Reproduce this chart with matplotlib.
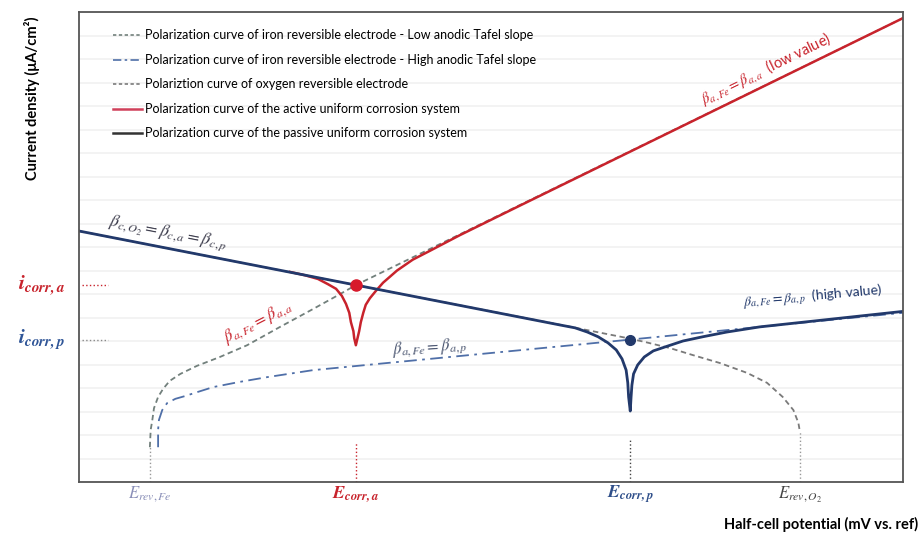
import numpy as np
import matplotlib.pyplot as plt
from matplotlib.lines import Line2D

plt.rcParams['font.family'] = ['Lato', 'DejaVu Sans']
plt.rcParams['mathtext.fontset'] = 'stix'

# characteristic potentials (arbitrary units along the potential axis)
E_rev_fe = 8.6
E_corr_a = 33.6
E_corr_p = 66.9
E_rev_o2 = 87.5
# characteristic current densities (arbitrary log units)
i_corr_a = 41.9
i_corr_p = 30.3

# iron reversible electrode, low anodic Tafel slope
fe_low_x = [8.6, 8.7, 8.9, 9.1, 9.6, 10.2, 11.0, 12.3, 14.3, 17.1, 20.4,
            24.4, 28.4, 31.7, 33.6, 100.0]
fe_low_y = [7.4, 11.1, 13.2, 15.7, 18.1, 19.8, 21.5, 23.0, 24.7, 26.6, 29.1,
            33.0, 36.8, 40.0, 41.9, 98.7]

# iron reversible electrode, high anodic Tafel slope
fe_high_x = [9.6, 9.6, 9.7, 10.1, 10.7, 11.7, 12.9, 14.3, 16.3, 19.5, 22.8,
             28.4, 66.9, 100.0]
fe_high_y = [7.4, 11.1, 13.2, 15.3, 16.8, 17.7, 18.3, 19.1, 20.2, 21.3, 22.3,
             23.8, 30.3, 36.0]

# oxygen reversible electrode
o2_x = [0.0, 33.6, 60.0, 66.9, 68.9, 71.7, 74.5, 77.8, 81.1, 83.5, 85.4,
        86.7, 87.3, 87.5]
o2_y = [53.4, 41.9, 32.9, 30.5, 29.7, 28.5, 27.0, 25.3, 23.2, 21.1, 18.1,
        15.3, 12.6, 10.6]

# active uniform corrosion system
act_x = [25.6, 27.4, 29.0, 30.2, 31.2, 31.9, 32.4, 32.8, 33.0, 33.3, 33.4, 33.6,
         33.8, 34.0, 34.2, 34.5, 34.8, 35.3, 36.0, 36.9, 38.6, 40.5, 42.6,
         46.2, 53.5, 100.0]
act_y = [44.7, 44.0, 43.2, 42.1, 41.1, 39.6, 37.9, 36.0, 34.0, 32.1, 30.6, 29.1,
         30.6, 32.1, 34.0, 36.0, 37.7, 39.1, 40.6, 42.4, 45.0, 47.3, 49.2,
         52.5, 58.8, 98.7]

# passive uniform corrosion system
pas_x = [0.0, 33.6, 58.4, 60.2, 61.7, 63.0, 64.2, 65.2, 65.9, 66.4, 66.6, 66.7, 66.9,
         67.0, 67.1, 67.3, 67.8, 68.6, 69.7, 71.4, 73.3, 75.7, 78.6, 82.6, 100.0]
pas_y = [53.4, 41.9, 33.4, 32.8, 31.9, 30.9, 29.6, 28.1, 26.2, 23.8, 21.1, 18.1, 15.1,
         18.1, 20.6, 23.0, 24.9, 26.6, 27.9, 28.9, 30.0, 30.9, 31.9, 33.0, 36.3]

legend_labels = [
    'Polarization curve of iron reversible electrode - Low anodic Tafel slope',
    'Polarization curve of iron reversible electrode - High anodic Tafel slope',
    'Polariztion curve of oxygen reversible electrode',
    'Polarization curve of the active uniform corrosion system',
    'Polarization curve of the passive uniform corrosion system',
]

red = '#c8232c'
navy = '#22396b'
dashdot_c = '#4f6fa8'
gray_fe = '#72807c'
gray_o2 = '#7a7a7a'

fig = plt.figure(figsize=(9.22, 5.47), dpi=100)
ax = fig.add_axes([79 / 922, 1 - 482 / 547, 824 / 922, 470 / 547])
ax.set_xlim(0, 100)
ax.set_ylim(0, 100)

# faint horizontal bands
ax.set_yticks(np.arange(0, 101, 5))
ax.set_xticks([])
ax.tick_params(length=0, labelleft=False)
ax.grid(axis='y', color='#f3f3f3', lw=1.4)
ax.set_axisbelow(True)
for s in ax.spines.values():
    s.set_color('#555555')
    s.set_linewidth(1.3)

ax.plot(fe_low_x, fe_low_y, color=gray_fe, lw=1.3, ls=(0, (3, 2)))
ax.plot(fe_high_x, fe_high_y, color=dashdot_c, lw=1.3, ls=(0, (7, 3, 1.5, 3)))
ax.plot(o2_x, o2_y, color=gray_o2, lw=1.3, ls=(0, (3, 2)))
ax.plot(act_x, act_y, color=red, lw=1.8, solid_joinstyle='round')
ax.plot(pas_x, pas_y, color=navy, lw=2.0, solid_joinstyle='round')

ax.plot([E_corr_a], [i_corr_a], 'o', color='#d7192b', ms=8, zorder=5)
ax.plot([E_corr_p], [i_corr_p], 'o', color=navy, ms=7, zorder=5)

# small guide marks
ax.plot([E_rev_fe, E_rev_fe], [0, 7.4], color='#999999', lw=1, ls=':')
ax.plot([E_corr_a, E_corr_a], [0, 8.5], color=red, lw=1, ls=':')
ax.plot([E_corr_p, E_corr_p], [0, 9], color='#444444', lw=1, ls=':')
ax.plot([E_rev_o2, E_rev_o2], [0, 10.6], color='#999999', lw=1, ls=':')
ax.plot([0.4, 3.5], [i_corr_a, i_corr_a], color=red, lw=1, ls=':')
ax.plot([0.4, 3.5], [i_corr_p, i_corr_p], color='#888888', lw=1, ls=':')

# slope annotations
ax.text(10.8, 53.0, r'$\beta_{c,O_2} = \beta_{c,a} = \beta_{c,p}$', color='#3a3a4a',
        fontsize=12.5, rotation=-11, ha='center', va='center', rotation_mode='anchor')
ax.text(21.7, 34.0, r'$\beta_{a,Fe} = \beta_{a,a}$', color=red,
        fontsize=12, rotation=27, ha='center', va='center', rotation_mode='anchor')
ax.text(42.6, 28.6, r'$\beta_{a,Fe} = \beta_{a,p}$', color='#4a5570',
        fontsize=12, rotation=4, ha='center', va='center', rotation_mode='anchor')
ax.text(83.4, 88.0, r'$\beta_{a,Fe} = \beta_{a,a}$  (low value)', color=red,
        fontsize=10.5, rotation=26, ha='center', va='center', rotation_mode='anchor')
ax.text(89.0, 39.4, r'$\beta_{a,Fe} = \beta_{a,p}$  (high value)', color=navy,
        fontsize=10, rotation=5, ha='center', va='center', rotation_mode='anchor')

# potential labels under the axis
trans = ax.get_xaxis_transform()
ax.text(E_rev_fe, -0.025, r'$E_{rev,Fe}$', color='#8a8fb8', fontsize=12,
        ha='center', va='center', transform=trans, clip_on=False)
ax.text(E_corr_a, -0.025, r'$\mathbfit{E}_{\mathbfit{corr,a}}$', color=red, fontsize=13,
        ha='center', va='center', transform=trans, clip_on=False)
ax.text(E_corr_p, -0.025, r'$\mathbfit{E}_{\mathbfit{corr,p}}$', color='#2f4f8a', fontsize=13,
        ha='center', va='center', transform=trans, clip_on=False)
ax.text(E_rev_o2, -0.025, r'$E_{rev,O_2}$', color='#444444', fontsize=12,
        ha='center', va='center', transform=trans, clip_on=False)

# current labels left of the axis
ax.text(-1.7, i_corr_a, r'$\mathbfit{i}_{\mathbfit{corr,a}}$', color=red, fontsize=15.5,
        ha='right', va='center', clip_on=False)
ax.text(-1.7, i_corr_p, r'$\mathbfit{i}_{\mathbfit{corr,p}}$', color='#2f5597', fontsize=15.5,
        ha='right', va='center', clip_on=False)

fig.text(32 / 922, 1 - 98 / 547, 'Current density (μA/cm²)', rotation=90,
         fontsize=10.5, fontweight='bold', ha='center', va='center')
fig.text(918 / 922, 1 - 524 / 547, 'Half-cell potential (mV vs. ref)',
         fontsize=10.5, fontweight='bold', ha='right', va='center')

handles = [
    Line2D([], [], color=gray_fe, lw=1.2, ls=(0, (2, 1.5))),
    Line2D([], [], color=dashdot_c, lw=1.2, ls=(0, (5, 2, 1.5, 2))),
    Line2D([], [], color=gray_o2, lw=1.2, ls=(0, (2, 1.5))),
    Line2D([], [], color='#d0405a', lw=1.8),
    Line2D([], [], color='#333333', lw=1.8),
]
ax.legend(handles, legend_labels, loc='upper left', bbox_to_anchor=(0.041, 0.963),
          frameon=False, fontsize=9, handlelength=2.3, handletextpad=0.25,
          labelspacing=1.0, borderpad=0, borderaxespad=0)

fig.savefig('out.png', dpi=100)
